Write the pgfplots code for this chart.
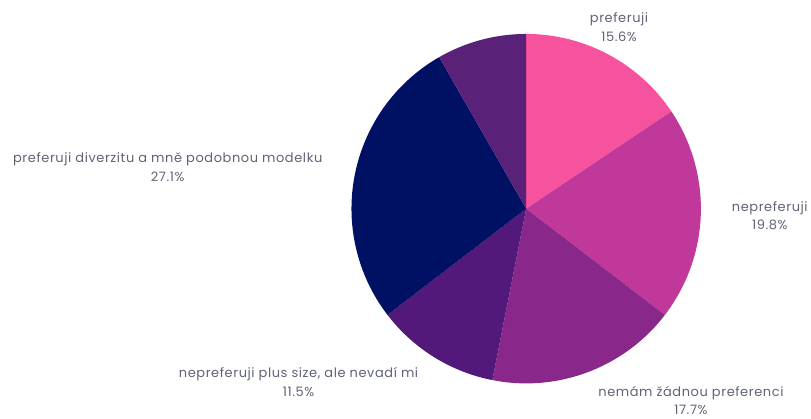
\documentclass[border=0pt]{standalone}
\usepackage{pgfplots}
\pgfplotsset{compat=1.18}
\usepackage{fontspec}
\setmainfont{Poppins}[LetterSpace=4.5]

\definecolor{cA}{RGB}{247,82,158}
\definecolor{cB}{RGB}{192,57,154}
\definecolor{cC}{RGB}{138,39,139}
\definecolor{cD}{RGB}{82,24,122}
\definecolor{cE}{RGB}{0,16,99}
\definecolor{cF}{RGB}{90,33,120}
\definecolor{labelgray}{RGB}{95,99,118}

\tikzset{lbl/.style={align=center, text=labelgray, font=\fontsize{13}{18.5}\selectfont}}

\begin{document}
\begin{tikzpicture}
\begin{axis}[
  x=1pt, y=1pt,
  xmin=0, xmax=811, ymin=0, ymax=418,
  hide axis, clip=false, scale only axis,
]
\addplot[draw=none] coordinates {(0,0) (811,418)};
% slices: share in %, clockwise from 12 o'clock
\foreach \v/\col [remember=\endang as \startang (initially 90)] in
  {15.6/cA, 19.8/cB, 17.7/cC, 11.5/cD, 27.1/cE, 8.3/cF}{
  \pgfmathsetmacro\endang{\startang-3.6*\v}
  \edef\temp{\noexpand\fill[\col] (axis cs:527,209) -- ++(\startang:175pt)
    arc[start angle=\startang, end angle=\endang, radius=175pt] -- cycle;}
  \temp
}
\node[lbl] at (axis cs:620,391) {preferuji\\15.6\%};
\node[lbl] at (axis cs:771,202) {nepreferuji\\19.8\%};
\node[lbl] at (axis cs:692,17) {nemám žádnou preferenci\\17.7\%};
\node[lbl] at (axis cs:299,35.5) {nepreferuji plus size, ale nevadí mi\\11.5\%};
\node[lbl] at (axis cs:168,250.5) {preferuji diverzitu a mně podobnou modelku\\27.1\%};
\end{axis}
\end{tikzpicture}
\end{document}
